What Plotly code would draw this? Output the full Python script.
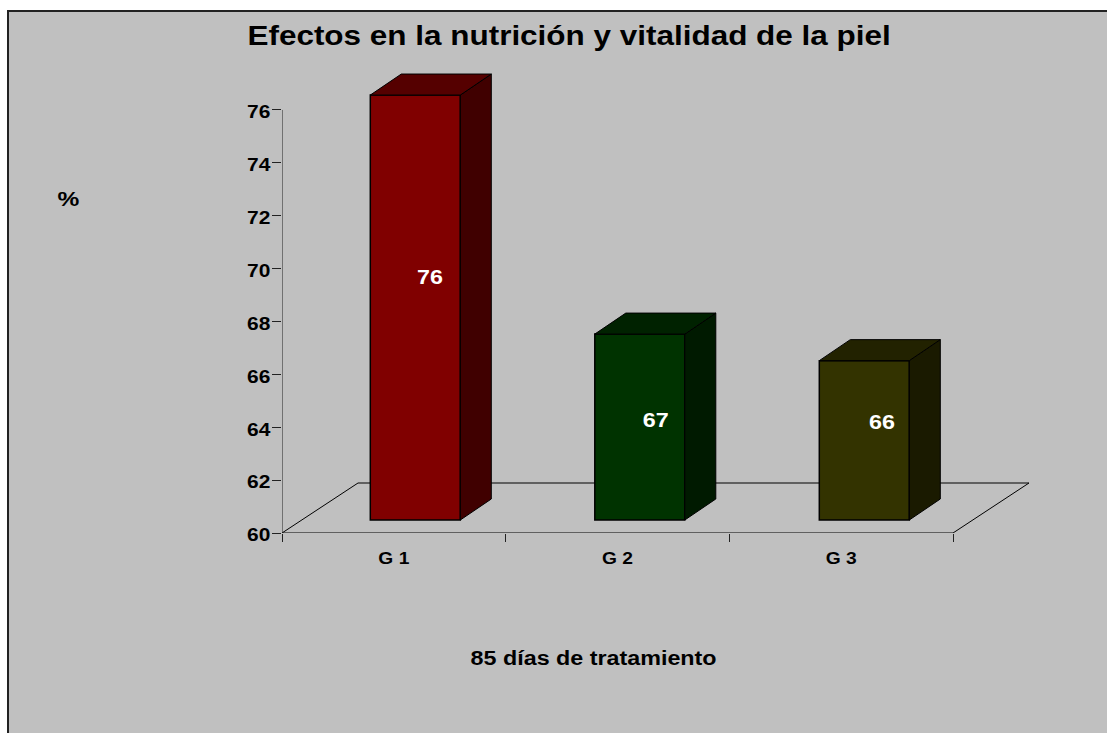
import plotly.graph_objects as go

categories = ["G 1", "G 2", "G 3"]
values = [76, 67, 66]
label_heights = [69.07, 63.69, 63.61]
label_offsets = [14.7, 16, 17.7]
y_ticks = [60, 62, 64, 66, 68, 70, 72, 74, 76]
front_colors = ["#800000", "#003300", "#333300"]
top_colors = ["#550000", "#002200", "#222200"]
side_colors = ["#400000", "#001A00", "#1A1A00"]

W, H = 1107, 733
L, R, T, B = 282, 1029, 70, 533
PX_X = 223.67          # pixels per category (axis)
PX_X2 = 224.5          # pixels per category (bars)
PX_Y = 26.44           # pixels per y unit (axis)
PX_Y2 = 26.56          # pixels per y unit (bars)
BAR_W = 90 / PX_X2
DX, DY = 31 / PX_X2, 21 / PX_Y2
FX, FY = 76 / PX_X, 50 / PX_Y
x_max = (R - L) / PX_X
x2_low = 0.5 - (415.3 - L) / PX_X2
x2_top = x2_low + (R - L) / PX_X2
y_top = 60 + (B - T) / PX_Y
y2_low = 60 - 13 / PX_Y2
y2_top = y2_low + (B - T) / PX_Y2
bar_x = [i + 0.5 for i in range(len(values))]
FONT = "Liberation Sans"


def paper_x(px):
    return (px - L) / (R - L)


def paper_y(py):
    return (B - py) / (B - T)


fig = go.Figure()

# floor and axis line, on the main axes
fig.add_trace(go.Scatter(
    x=[0, FX, x_max, 3, 0], y=[60, 60 + FY, 60 + FY, 60, 60], mode="lines",
    line=dict(color="black", width=1), cliponaxis=False, hoverinfo="skip", showlegend=False))
fig.add_trace(go.Scatter(
    x=[0, 0], y=[y_ticks[0], y_ticks[-1]], mode="lines",
    line=dict(color="#222222", width=1), cliponaxis=False, hoverinfo="skip", showlegend=False))

# bar fronts, on the overlay axes
fig.add_trace(go.Bar(
    x=bar_x, y=[v - 60 for v in values], base=60, width=BAR_W,
    marker=dict(color=front_colors, line=dict(color="black", width=1.5)),
    xaxis="x2", yaxis="y2", showlegend=False, hoverinfo="skip"))

# depth faces of each bar
for cx, v, tc, sc in zip(bar_x, values, top_colors, side_colors):
    x0, x1 = cx - BAR_W / 2, cx + BAR_W / 2
    fig.add_trace(go.Scatter(
        x=[x1, x1 + DX, x1 + DX, x1, x1], y=[60, 60 + DY, v + DY, v, 60],
        mode="lines", fill="toself", fillcolor=sc, line=dict(color="black", width=1),
        xaxis="x2", yaxis="y2", showlegend=False, hoverinfo="skip"))
    fig.add_trace(go.Scatter(
        x=[x0, x0 + DX, x1 + DX, x1, x0], y=[v, v + DY, v + DY, v, v],
        mode="lines", fill="toself", fillcolor=tc, line=dict(color="black", width=1),
        xaxis="x2", yaxis="y2", showlegend=False, hoverinfo="skip"))

# data labels
fig.add_trace(go.Scatter(
    x=[cx + off / PX_X2 for cx, off in zip(bar_x, label_offsets)], y=label_heights, mode="text",
    text=[str(v) for v in values], textposition="middle center",
    textfont=dict(family=FONT, size=20, color="white", weight="bold"),
    xaxis="x2", yaxis="y2", showlegend=False, hoverinfo="skip"))

fig.update_layout(
    width=W, height=H,
    margin=dict(l=L, r=W - R, t=T, b=H - B, pad=0),
    paper_bgcolor="white", plot_bgcolor="rgba(0,0,0,0)",
    font=dict(family=FONT, color="black"),
    barmode="overlay",
    xaxis=dict(
        range=[0, x_max], showgrid=False, zeroline=False, showline=False,
        tickmode="array", tickvals=bar_x, ticktext=categories,
        ticks="outside", ticklen=10, tickcolor="rgba(0,0,0,0)",
        tickfont=dict(family=FONT, size=16.5, color="black", weight="bold"),
        minor=dict(tickmode="array", tickvals=[0, 1, 2, 3], ticks="outside",
                   ticklen=8, tickcolor="#222222", tickwidth=1, showgrid=False),
    ),
    yaxis=dict(
        range=[60, y_top], showgrid=False, zeroline=False, showline=False,
        tickmode="array", tickvals=y_ticks,
        ticks="outside", ticklen=9, tickcolor="#222222", tickwidth=1,
        tickfont=dict(family=FONT, size=18, color="black", weight="bold"),
        ticklabelshift=2, ticklabelstandoff=-2,
    ),
    xaxis2=dict(range=[x2_low, x2_top], overlaying="x", visible=False),
    yaxis2=dict(range=[y2_low, y2_top], overlaying="y", visible=False),
    shapes=[dict(
        type="rect", xref="paper", yref="paper", layer="below",
        x0=paper_x(8), x1=paper_x(W + 10), y0=paper_y(H + 10), y1=paper_y(11),
        fillcolor="#C0C0C0", line=dict(color="#222222", width=2))],
    annotations=[
        dict(text="Efectos en la nutrición y vitalidad de la piel", xref="paper", yref="paper",
             x=paper_x(569), y=paper_y(36), xanchor="center", yanchor="middle", showarrow=False,
             font=dict(size=27, color="black", weight="bold")),
        dict(text="%", xref="paper", yref="paper", x=paper_x(68), y=paper_y(198),
             xanchor="center", yanchor="middle", showarrow=False,
             font=dict(size=21, color="black", weight="bold")),
        dict(text="85 días de tratamiento", xref="paper", yref="paper",
             x=paper_x(593), y=paper_y(658), xanchor="center", yanchor="middle", showarrow=False,
             font=dict(size=20, color="black", weight="bold")),
    ],
)

# The reference's text is stretched sideways; widen the real text glyphs to match.
stretch_js = """
document.body.style.margin='0';document.body.style.overflow='hidden';
document.querySelectorAll('.main-svg text').forEach(function(t){
  var w=t.getComputedTextLength();
  if(w>0){t.setAttribute('lengthAdjust','spacingAndGlyphs');t.setAttribute('textLength',(w*1.165).toFixed(1));}
});
"""
fig.write_html("out.html", config=dict(displayModeBar=False), post_script=stretch_js)
